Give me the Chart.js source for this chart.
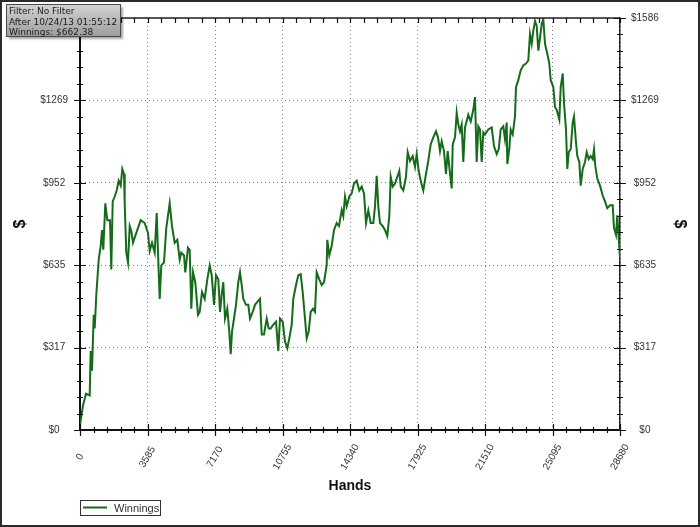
<!DOCTYPE html>
<html>
<head>
<meta charset="utf-8">
<title>Winnings</title>
<script src="https://cdn.jsdelivr.net/npm/chart.js@4.4.1/dist/chart.umd.min.js"></script>
<style>
  html, body { margin: 0; padding: 0; background: #fff; }
  canvas { display: block; }
</style>
</head>
<body>
<canvas id="winningsChart" width="700" height="527"></canvas>
<script>
// hands played (x) and cumulative winnings in $ (y)
const hands = [
  0, 159, 319, 515, 568, 637, 728, 781, 866, 993, 1099, 1168, 1237, 1344, 1450, 1593, 1662, 1737, 1843, 1949,
  2055, 2162, 2247, 2337, 2374, 2459, 2549, 2640, 2725, 2815, 2990, 3224, 3436, 3611, 3702, 3824, 3967, 4074, 4143, 4233,
  4318, 4461, 4583, 4764, 4886, 5029, 5168, 5295, 5380, 5524, 5593, 5736, 5826, 5911, 6002, 6124, 6267, 6357, 6480, 6623,
  6761, 6889, 6995, 7117, 7223, 7345, 7436, 7526, 7611, 7701, 7823, 7929, 8004, 8073, 8179, 8285, 8407, 8498, 8588, 8673,
  8816, 8938, 9029, 9172, 9294, 9417, 9560, 9650, 9772, 9916, 10022, 10128, 10266, 10410, 10532, 10622, 10766, 10888, 11010, 11116,
  11244, 11329, 11472, 11594, 11722, 11828, 11950, 12040, 12146, 12253, 12375, 12481, 12571, 12709, 12837, 12959, 13102, 13134, 13240, 13368,
  13490, 13633, 13756, 13899, 13984, 14074, 14165, 14303, 14430, 14552, 14696, 14834, 14961, 15084, 15190, 15312, 15439, 15578, 15668, 15758,
  15843, 15933, 16077, 16199, 16321, 16427, 16502, 16608, 16730, 16852, 16958, 17033, 17171, 17314, 17404, 17527, 17670, 17792, 17882, 17988,
  18095, 18233, 18376, 18498, 18626, 18764, 18908, 19014, 19120, 19210, 19332, 19439, 19529, 19614, 19741, 19795, 19917, 20007, 20092, 20182,
  20272, 20357, 20448, 20623, 20751, 20889, 20979, 21069, 21154, 21244, 21335, 21420, 21510, 21685, 21866, 21988, 22131, 22238, 22344, 22482,
  22572, 22663, 22694, 22800, 22875, 22981, 23103, 23156, 23278, 23406, 23544, 23688, 23810, 23900, 23990, 24075, 24165, 24256, 24341, 24431,
  24521, 24606, 24697, 24819, 24925, 25000, 25138, 25228, 25319, 25457, 25531, 25638, 25706, 25812, 25881, 25956, 26061, 26168, 26237, 26343,
  26412, 26518, 26593, 26699, 26821, 26912, 27018, 27124, 27230, 27299, 27368, 27474, 27618, 27761, 27883, 28006, 28149, 28292, 28361, 28467,
  28536, 28611, 28680
];
const winnings = [
  19, 95, 140, 133, 304, 228, 444, 391, 520, 656, 709, 770, 694, 873, 808, 808, 618, 880, 899, 922,
  960, 941, 1005, 986, 873, 683, 645, 785, 766, 721, 759, 808, 797, 759, 690, 721, 683, 835, 683, 505,
  634, 645, 778, 873, 785, 721, 732, 656, 683, 672, 607, 702, 694, 467, 607, 569, 444, 455, 531, 505,
  580, 634, 596, 482, 596, 580, 455, 520, 569, 429, 467, 379, 292, 379, 429, 482, 569, 607, 558, 505,
  482, 482, 429, 455, 482, 493, 505, 368, 368, 429, 391, 391, 406, 417, 304, 429, 417, 341, 315, 353,
  406, 505, 558, 596, 600, 531, 429, 353, 379, 455, 467, 455, 607, 580, 558, 569, 634, 732, 672, 709,
  770, 797, 785, 846, 823, 899, 861, 899, 911, 949, 960, 922, 937, 911, 797, 846, 797, 797, 861, 979,
  861, 797, 785, 770, 747, 823, 975, 937, 949, 975, 998, 937, 922, 975, 1070, 1036, 1055, 1013, 1062, 998,
  960, 922, 986, 1036, 1100, 1127, 1150, 1127, 1074, 1112, 1074, 986, 1074, 1013, 930, 1100, 1127, 1222, 1176, 1150,
  1176, 1032, 1165, 1214, 1188, 1233, 1282, 1032, 1169, 1157, 1032, 1146, 1138, 1157, 1165, 1093, 1062, 1081, 1157, 1169,
  1119, 1184, 1024, 1081, 1157, 1138, 1207, 1320, 1347, 1385, 1404, 1411, 1423, 1525, 1487, 1537, 1575, 1556, 1461, 1510,
  1563, 1582, 1487, 1449, 1411, 1347, 1320, 1244, 1233, 1195, 1320, 1373, 1260, 1157, 1005, 1070, 1081, 1184, 1207, 1108,
  1055, 1032, 941, 1005, 1032, 1070, 1043, 1055, 1043, 1081, 1017, 968, 941, 903, 880, 854, 865, 865, 778, 751,
  827, 740, 662.38
];

const handTicks = [0, 3585, 7170, 10755, 14340, 17925, 21510, 25095, 28680];
const dollarTicks = [0, 317.28, 634.56, 951.84, 1269.12, 1586.4];
const infoLines = ['Filter: No Filter', 'After 10/24/13 01:55:12', 'Winnings: $662.38'];

const lineColor = '#146b19';
const labelFont = '10px "Liberation Sans", Arial, sans-serif';

// background, frame, axis tick marks, rotated x labels, info box and legend
const chrome = {
  id: 'chrome',
  beforeDraw(chart) {
    const ctx = chart.ctx;
    ctx.save();
    ctx.fillStyle = '#fff';
    ctx.fillRect(0, 0, chart.width, chart.height);
    ctx.restore();
  },
  afterDraw(chart) {
    const ctx = chart.ctx;
    const a = chart.chartArea;
    const xs = chart.scales.x;
    const ys = chart.scales.y;
    ctx.save();

    // top edge of plot
    ctx.strokeStyle = '#222';
    ctx.lineWidth = 1.5;
    ctx.beginPath();
    ctx.moveTo(a.left, a.top);
    ctx.lineTo(a.right, a.top);
    ctx.stroke();

    // tick marks (major + 4 minor between)
    ctx.strokeStyle = '#111';
    ctx.lineWidth = 1.2;
    ctx.beginPath();
    for (let i = 0; i < handTicks.length; i++) {
      const px = Math.round(xs.getPixelForValue(handTicks[i])) + 0.5;
      ctx.moveTo(px, a.bottom - 6); ctx.lineTo(px, a.bottom + 6);
      ctx.moveTo(px, a.top); ctx.lineTo(px, a.top + 5);
      if (i < handTicks.length - 1) {
        const step = (handTicks[i + 1] - handTicks[i]) / 5;
        for (let k = 1; k < 5; k++) {
          const mx = Math.round(xs.getPixelForValue(handTicks[i] + k * step)) + 0.5;
          ctx.moveTo(mx, a.bottom - 3); ctx.lineTo(mx, a.bottom + 3);
          ctx.moveTo(mx, a.top); ctx.lineTo(mx, a.top + 5);
        }
      }
    }
    for (let i = 0; i < dollarTicks.length; i++) {
      const py = Math.round(ys.getPixelForValue(dollarTicks[i])) + 0.5;
      ctx.moveTo(a.left - 6, py); ctx.lineTo(a.left + 6, py);
      ctx.moveTo(a.right - 6, py); ctx.lineTo(a.right + 6, py);
      if (i < dollarTicks.length - 1) {
        const step = (dollarTicks[i + 1] - dollarTicks[i]) / 5;
        for (let k = 1; k < 5; k++) {
          const my = Math.round(ys.getPixelForValue(dollarTicks[i] + k * step)) + 0.5;
          ctx.moveTo(a.left - 3, my); ctx.lineTo(a.left + 3, my);
          ctx.moveTo(a.right - 3, my); ctx.lineTo(a.right + 3, my);
        }
      }
    }
    ctx.stroke();

    // x tick labels, centred under the tick and rotated
    ctx.fillStyle = '#333';
    ctx.font = labelFont;
    ctx.textAlign = 'center';
    ctx.textBaseline = 'middle';
    handTicks.forEach(v => {
      ctx.save();
      ctx.translate(xs.getPixelForValue(v), a.bottom + 27);
      ctx.rotate(-Math.PI / 3);
      ctx.fillText(String(v), 0, 0);
      ctx.restore();
    });

    // info box
    ctx.shadowColor = 'rgba(0,0,0,0.35)';
    ctx.shadowOffsetX = 2;
    ctx.shadowOffsetY = 2;
    ctx.shadowBlur = 2;
    const g = ctx.createLinearGradient(0, 5, 0, 37);
    g.addColorStop(0, '#d2d2d2');
    g.addColorStop(1, '#9c9c9c');
    ctx.fillStyle = g;
    ctx.fillRect(6.5, 4.5, 114, 32);
    ctx.shadowColor = 'transparent';
    ctx.strokeStyle = '#4a4a4a';
    ctx.lineWidth = 1;
    ctx.strokeRect(6.5, 4.5, 114, 32);
    ctx.fillStyle = '#1a1a1a';
    ctx.font = '9px "DejaVu Sans", Verdana, sans-serif';
    ctx.textAlign = 'left';
    ctx.textBaseline = 'alphabetic';
    infoLines.forEach((t, i) => ctx.fillText(t, 9, 14 + i * 10.5));

    // legend
    const ds = chart.data.datasets[0];
    ctx.strokeStyle = '#333';
    ctx.lineWidth = 1;
    ctx.strokeRect(80.5, 500.5, 80, 15);
    ctx.strokeStyle = ds.borderColor;
    ctx.lineWidth = 2;
    ctx.beginPath();
    ctx.moveTo(83, 507.5);
    ctx.lineTo(107, 507.5);
    ctx.stroke();
    ctx.fillStyle = '#333';
    ctx.font = '11px "Liberation Sans", Arial, sans-serif';
    ctx.textBaseline = 'middle';
    ctx.fillText(ds.label, 114, 508.5);

    // outer frame
    ctx.strokeStyle = '#2a2a2a';
    ctx.lineWidth = 2;
    ctx.strokeRect(1, 1, chart.width - 2, chart.height - 2);
    ctx.restore();
  }
};

const setTicks = list => scale => { scale.ticks = list.map(v => ({ value: v })); };

const ctx = document.getElementById('winningsChart').getContext('2d');
new Chart(ctx, {
  type: 'line',
  data: {
    datasets: [{
      label: 'Winnings',
      data: hands.map((h, i) => ({ x: h, y: winnings[i] })),
      borderColor: lineColor,
      borderWidth: 2,
      pointRadius: 0,
      tension: 0,
      fill: false
    }]
  },
  options: {
    responsive: false,
    animation: false,
    devicePixelRatio: 1,
    layout: { padding: { top: 12, left: 0, right: 0, bottom: 0 } },
    plugins: {
      legend: { display: false },
      tooltip: { enabled: false }
    },
    scales: {
      x: {
        type: 'linear',
        min: 0,
        max: 28680,
        afterBuildTicks: setTicks(handTicks),
        afterFit: s => { s.height = 97; },
        ticks: { display: false },
        grid: { color: '#808080', lineWidth: 1, drawTicks: false },
        border: { color: '#111', width: 2, dash: [1, 3] },
        title: {
          display: true,
          text: 'Hands',
          color: '#111',
          font: { family: '"Liberation Sans", Arial, sans-serif', size: 14, weight: 'bold' },
          padding: { top: 0, bottom: 32.6 }
        }
      },
      y: {
        min: 0,
        max: 1586.4,
        position: 'left',
        afterBuildTicks: setTicks(dollarTicks),
        afterFit: s => { s.width = 80; },
        ticks: {
          color: '#333',
          font: { family: '"Liberation Sans", Arial, sans-serif', size: 10 },
          crossAlign: 'center',
          padding: 12,
          callback: v => '$' + Math.round(v)
        },
        grid: { color: '#808080', lineWidth: 1, drawTicks: false },
        border: { color: '#111', width: 2, dash: [1, 3] },
        title: {
          display: true,
          text: '$',
          color: '#111',
          font: { family: '"Liberation Sans", Arial, sans-serif', size: 16, weight: 'bold' },
          padding: { top: 11.4, bottom: 0 }
        }
      },
      y2: {
        min: 0,
        max: 1586.4,
        position: 'right',
        afterBuildTicks: setTicks(dollarTicks),
        afterFit: s => { s.width = 80; },
        ticks: {
          color: '#333',
          font: { family: '"Liberation Sans", Arial, sans-serif', size: 10 },
          crossAlign: 'center',
          padding: 11,
          callback: v => '$' + Math.round(v)
        },
        grid: { drawOnChartArea: false, drawTicks: false },
        border: { color: '#222', width: 1.5 },
        title: {
          display: true,
          text: '$',
          color: '#111',
          font: { family: '"Liberation Sans", Arial, sans-serif', size: 16, weight: 'bold' },
          padding: { top: 11.4, bottom: 0 }
        }
      }
    }
  },
  plugins: [chrome]
});
</script>
</body>
</html>
